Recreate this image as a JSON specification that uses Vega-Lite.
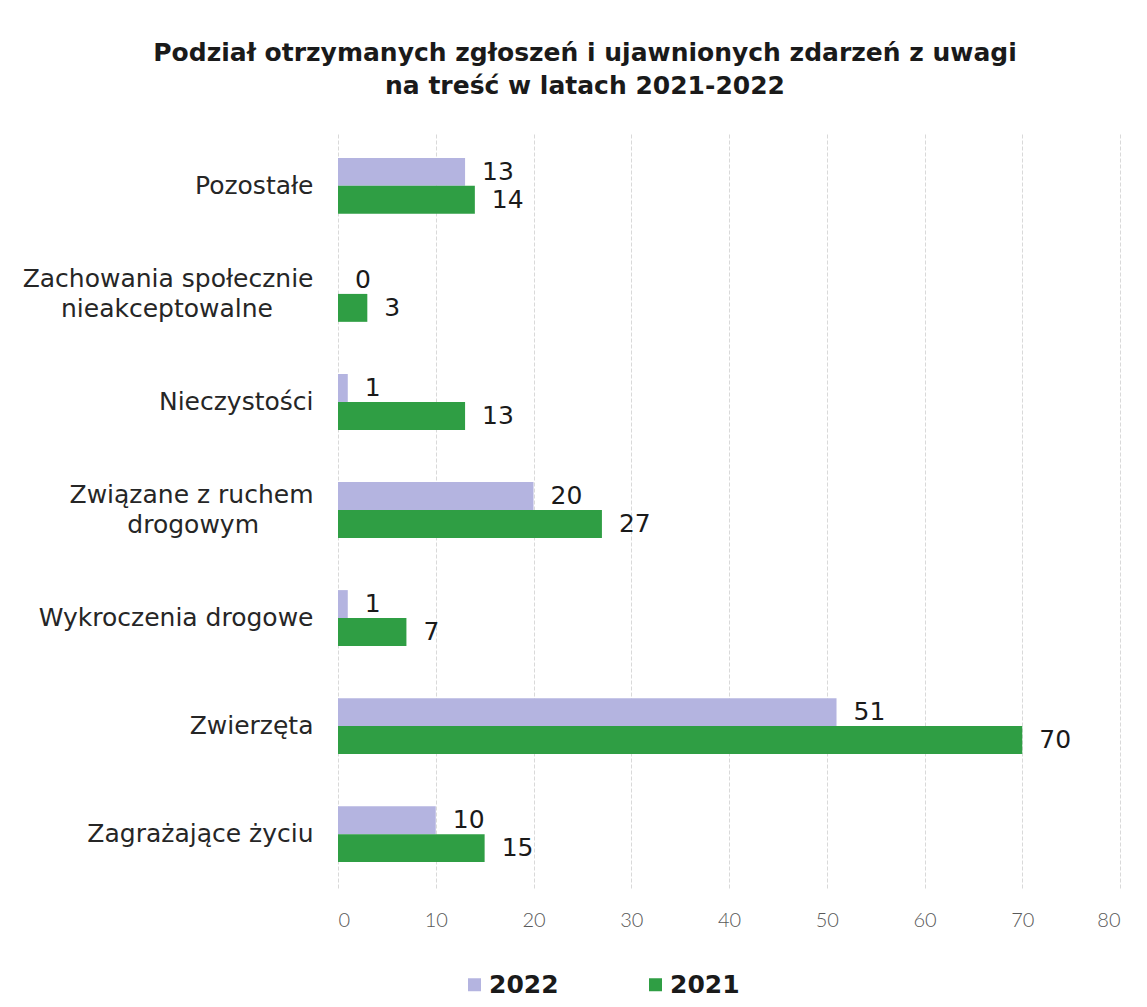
{
  "$schema": "https://vega.github.io/schema/vega-lite/v6.json",
  "autosize": {"type": "none"},
  "padding": {"left": 338, "top": 132, "right": 27, "bottom": 119},
  "width": 782,
  "height": 756,
  "background": "white",
  "title": {
    "text": ["Podział otrzymanych zgłoszeń i ujawnionych zdarzeń z uwagi", "na treść w latach 2021-2022"],
    "anchor": "middle",
    "frame": "group",
    "dx": -144,
    "offset": 33,
    "font": "DejaVu Sans",
    "fontSize": 25,
    "fontWeight": "bold",
    "color": "#1a1a1a",
    "lineHeight": 33
  },
  "data": {
    "values": [
      {"kategoria": "Pozostałe", "rok": "2022", "liczba": 13},
      {"kategoria": "Pozostałe", "rok": "2021", "liczba": 14},
      {"kategoria": "Zachowania społecznie|nieakceptowalne", "rok": "2022", "liczba": 0},
      {"kategoria": "Zachowania społecznie|nieakceptowalne", "rok": "2021", "liczba": 3},
      {"kategoria": "Nieczystości", "rok": "2022", "liczba": 1},
      {"kategoria": "Nieczystości", "rok": "2021", "liczba": 13},
      {"kategoria": "Związane z ruchem|drogowym", "rok": "2022", "liczba": 20},
      {"kategoria": "Związane z ruchem|drogowym", "rok": "2021", "liczba": 27},
      {"kategoria": "Wykroczenia drogowe", "rok": "2022", "liczba": 1},
      {"kategoria": "Wykroczenia drogowe", "rok": "2021", "liczba": 7},
      {"kategoria": "Zwierzęta", "rok": "2022", "liczba": 51},
      {"kategoria": "Zwierzęta", "rok": "2021", "liczba": 70},
      {"kategoria": "Zagrażające życiu", "rok": "2022", "liczba": 10},
      {"kategoria": "Zagrażające życiu", "rok": "2021", "liczba": 15}
    ]
  },
  "encoding": {
    "y": {
      "field": "kategoria",
      "type": "nominal",
      "sort": null,
      "scale": {"paddingInner": 0.483, "paddingOuter": 0.24},
      "axis": {
        "title": null,
        "domain": false,
        "ticks": false,
        "tickSize": 0,
        "labelPadding": 25,
        "labelFont": "DejaVu Sans",
        "labelFontSize": 25,
        "labelColor": "#262626",
        "labelLimit": 400,
        "labelOffset": {"condition": {"test": "indexof(datum.value, '|') >= 0", "value": -15}, "value": 0},
        "labelExpr": "split(datum.value, '|')[0]"
      }
    }
  },
  "layer": [
    {
      "mark": {"type": "bar"},
      "encoding": {
        "x": {
          "field": "liczba",
          "type": "quantitative",
          "scale": {"domain": [0, 80], "nice": false},
          "axis": {
            "title": null,
            "domain": false,
            "ticks": false,
            "values": [0, 10, 20, 30, 40, 50, 60, 70, 80],
            "labelPadding": 22,
            "labelFont": "Lato",
            "labelFontWeight": 300,
            "labelFontSize": 20,
            "labelColor": "#595959",
            "labelOverlap": false,
            "grid": true,
            "gridColor": "#d9d9d9",
            "gridDash": [4, 2],
            "gridWidth": 1
          }
        },
        "yOffset": {
          "field": "rok",
          "type": "nominal",
          "sort": ["2022", "2021"],
          "scale": {"paddingInner": 0, "paddingOuter": 0}
        },
        "color": {
          "field": "rok",
          "type": "nominal",
          "sort": ["2022", "2021"],
          "scale": {"domain": ["2022", "2021"], "range": ["#b4b4e0", "#2f9e44"]},
          "legend": {
            "title": null,
            "orient": "none",
            "direction": "horizontal",
            "legendX": 124,
            "legendY": 840,
            "symbolType": "square",
            "symbolSize": 169,
            "symbolStrokeWidth": 0,
            "labelOffset": 2,
            "columnPadding": 84,
            "labelFont": "DejaVu Sans",
            "labelFontWeight": "bold",
            "labelFontSize": 25,
            "labelColor": "#1a1a1a"
          }
        }
      }
    },
    {
      "mark": {
        "type": "text",
        "align": "left",
        "baseline": "middle",
        "dx": 17,
        "font": "DejaVu Sans",
        "fontSize": 25,
        "color": "#1a1a1a"
      },
      "encoding": {
        "x": {"field": "liczba", "type": "quantitative"},
        "yOffset": {"field": "rok", "type": "nominal", "sort": ["2022", "2021"]},
        "text": {"field": "liczba", "type": "quantitative"}
      }
    },
    {
      "transform": [
        {"filter": "datum.kategoria == 'Zachowania społecznie|nieakceptowalne' && datum.rok == '2021'"},
        {"calculate": "split(datum.kategoria, '|')[1]", "as": "linia2"}
      ],
      "mark": {
        "type": "text",
        "align": "right",
        "baseline": "middle",
        "dx": -65,
        "dy": 15,
        "font": "DejaVu Sans",
        "fontSize": 25,
        "color": "#262626"
      },
      "encoding": {
        "x": {"datum": 0, "type": "quantitative"},
        "text": {"field": "linia2", "type": "nominal"}
      }
    },
    {
      "transform": [
        {"filter": "datum.kategoria == 'Związane z ruchem|drogowym' && datum.rok == '2021'"},
        {"calculate": "split(datum.kategoria, '|')[1]", "as": "linia2"}
      ],
      "mark": {
        "type": "text",
        "align": "right",
        "baseline": "middle",
        "dx": -79,
        "dy": 15,
        "font": "DejaVu Sans",
        "fontSize": 25,
        "color": "#262626"
      },
      "encoding": {
        "x": {"datum": 0, "type": "quantitative"},
        "text": {"field": "linia2", "type": "nominal"}
      }
    }
  ],
  "config": {
    "view": {"stroke": null}
  }
}
